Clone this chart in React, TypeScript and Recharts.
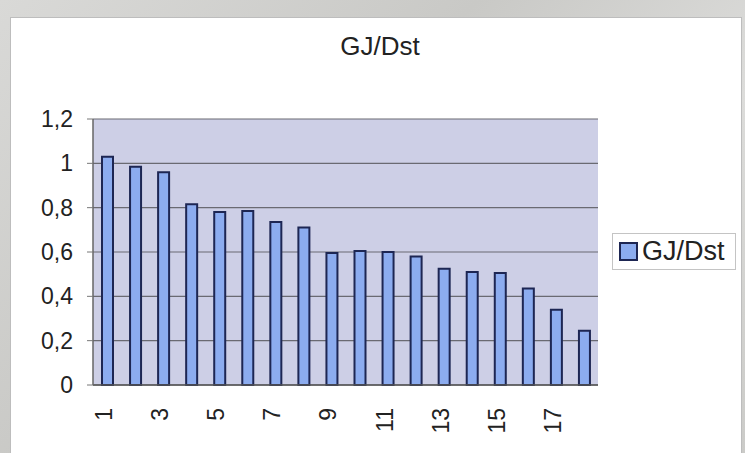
import React from "react";
import { BarChart, Bar, XAxis, YAxis, CartesianGrid, Legend } from "recharts";

const categories = ["1", "2", "3", "4", "5", "6", "7", "8", "9", "10", "11", "12", "13", "14", "15", "16", "17", "18"];
const gjDst = [1.03, 0.985, 0.96, 0.815, 0.78, 0.785, 0.735, 0.71, 0.595, 0.605, 0.6, 0.58, 0.525, 0.51, 0.505, 0.435, 0.34, 0.245];
const yTicks = [0, 0.2, 0.4, 0.6, 0.8, 1, 1.2];

const data = categories.map((c, i) => ({ x: c, v: gjDst[i] }));

const FONT = "'Liberation Sans', Arial, sans-serif";
const BAR_FILL = "#8cacef";
const BAR_STROKE = "#1d2653";

function XTick({ x, y, payload }: any) {
  return (
    <text
      x={x - 3}
      y={y + 15}
      transform={`rotate(-90, ${x - 3}, ${y + 15})`}
      textAnchor="end"
      dominantBaseline="central"
      fill="#222"
      fontSize={23}
      fontFamily={FONT}
    >
      {payload.value}
    </text>
  );
}

function LegendBox() {
  return (
    <div
      style={{
        width: 124,
        height: 37,
        border: "1px solid #c4c4c4",
        background: "#fff",
        display: "flex",
        alignItems: "center",
        fontFamily: FONT,
        fontSize: 27,
        color: "#222",
        boxSizing: "border-box",
      }}
    >
      <span
        style={{
          display: "inline-block",
          width: 15,
          height: 15,
          background: BAR_FILL,
          border: `2px solid ${BAR_STROKE}`,
          margin: "0 4px 0 6px",
        }}
      />
      GJ/Dst
    </div>
  );
}

export default function App() {
  return (
    <div
      style={{
        position: "absolute",
        left: 0,
        top: 0,
        width: 745,
        height: 453,
        overflow: "hidden",
        background: "linear-gradient(135deg, #d9d9d7 0%, #c9c9c6 40%, #dcdcda 70%, #cbcbc8 100%)",
      }}
    >
      <div
        style={{
          position: "absolute",
          left: 10,
          top: 17,
          width: 732,
          height: 450,
          background: "#fff",
          border: "1px solid #bdbdbd",
          boxSizing: "border-box",
        }}
      />
      <div
        style={{
          position: "absolute",
          left: 280,
          width: 200,
          top: 31,
          textAlign: "center",
          fontFamily: FONT,
          fontSize: 26,
          color: "#222",
        }}
      >
        GJ/Dst
      </div>
      <div style={{ position: "absolute", left: 0, top: 0 }}>
        <BarChart
          width={745}
          height={453}
          data={data}
          margin={{ top: 119, right: 23, bottom: 0, left: 0 }}
          barSize={11}
        >
          <CartesianGrid vertical={false} fill="#cdcfe6" stroke="#6a6a72" strokeWidth={1.2} />
          <XAxis
            dataKey="x"
            interval={1}
            height={68}
            tick={<XTick />}
            tickLine={false}
            axisLine={{ stroke: "#555", strokeWidth: 1.5 }}
          />
          <YAxis
            width={93}
            domain={[0, 1.2]}
            ticks={yTicks}
            tickSize={6}
            tickMargin={14}
            tickFormatter={(v: number) => String(v).replace(".", ",")}
            tick={{ fill: "#222", fontSize: 23, fontFamily: FONT }}
            tickLine={{ stroke: "#777" }}
            axisLine={{ stroke: "#666", strokeWidth: 1.5 }}
          />
          <YAxis
            yAxisId="frame"
            orientation="right"
            width={0}
            domain={[0, 1.2]}
            tick={false}
            tickLine={false}
            axisLine={{ stroke: "#9a9aa6" }}
          />
          <Legend
            layout="vertical"
            align="right"
            verticalAlign="middle"
            content={<LegendBox />}
            wrapperStyle={{ position: "absolute", left: 612, top: 233, width: 124 }}
          />
          <Bar
            dataKey="v"
            name="GJ/Dst"
            fill={BAR_FILL}
            stroke={BAR_STROKE}
            strokeWidth={2}
            isAnimationActive={false}
          />
        </BarChart>
      </div>
    </div>
  );
}
